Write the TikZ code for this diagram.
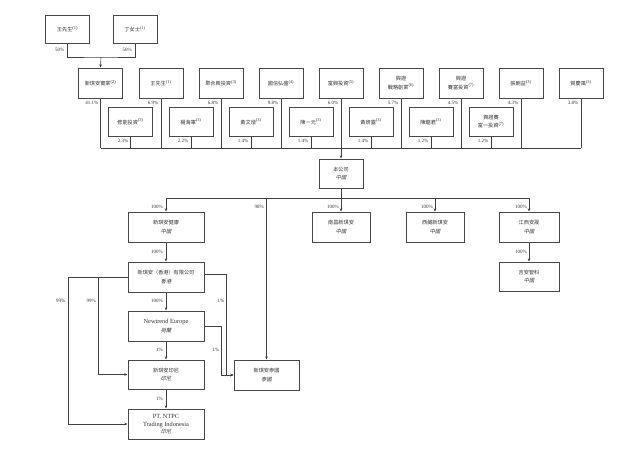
\documentclass[tikz,border=0pt]{standalone}
\usepackage{fontspec}
\setmainfont{Liberation Serif}
\newfontfamily\cjkfont{Noto Sans CJK TC}[Scale=0.82]
\newfontfamily\cjkitfont{Noto Sans CJK TC}[Scale=0.82,FakeSlant=0.2]
\newcommand\zh[1]{{\cjkfont #1}}
\newcommand\zhi[1]{{\cjkitfont #1}}
\newcommand\nt[1]{\textsuperscript{(#1)}}
\usetikzlibrary{arrows.meta}
\begin{document}
\begin{tikzpicture}[x=1pt,y=-1pt,
  box/.style={draw=black!72,line width=1pt,fill=white,minimum width=44pt,minimum height=29pt,align=center,inner sep=1pt,font=\fontsize{6.3}{8.5}\selectfont,text=black!80},
  wbox/.style={box,minimum width=76pt,minimum height=30pt},
  mbox/.style={box,minimum width=58pt,minimum height=30pt},
  conn/.style={draw=black!75,line width=0.6pt},
  arr/.style={conn,-{Stealth[length=3.2pt,width=2.6pt]}},
  pct/.style={font=\fontsize{5}{6}\selectfont,inner sep=0pt,anchor=east,text=black!80}]
\useasboundingbox (0,0) rectangle (632,453);

% top row
\node[box,minimum height=28pt] (w1) at (67.5,29) {\zh{王先生}\nt{1}};
\node[box,minimum height=28pt] (d1) at (135,29) {\zh{丁女士}\nt{1}};

% second row
\node[box,minimum height=30pt] (a1) at (100.5,83) {\zh{新琪安實業}\nt{2}};
\node[box,minimum height=30pt] (a2) at (161,83) {\zh{王先生}\nt{1}};
\node[box,minimum height=30pt] (a3) at (221,83) {\zh{聚合興投資}\nt{3}};
\node[box,minimum height=30pt] (a4) at (281,83) {\zh{國信弘盛}\nt{4}};
\node[box,minimum height=30pt] (a5) at (341,83) {\zh{富興投資}\nt{5}};
\node[box,minimum height=30pt] (a6) at (401,83) {\zh{興證}\\\zh{戰略創業}\nt{6}};
\node[box,minimum height=30pt] (a7) at (461,83) {\zh{興證}\\\zh{賽富投資}\nt{7}};
\node[box,minimum height=30pt] (a8) at (521,83) {\zh{張朝益}\nt{3}};
\node[box,minimum height=30pt] (a9) at (581,83) {\zh{賀慶風}\nt{3}};

% third row
\node[box] (b1) at (130.5,121.5) {\zh{修能投資}\nt{3}};
\node[box] (b2) at (191,121.5) {\zh{楊海軍}\nt{3}};
\node[box] (b3) at (251,121.5) {\zh{黃文增}\nt{3}};
\node[box] (b4) at (311,121.5) {\zh{陳一元}\nt{3}};
\node[box] (b5) at (371,121.5) {\zh{黃妍露}\nt{3}};
\node[box] (b6) at (431,121.5) {\zh{陳龍君}\nt{3}};
\node[box] (b7) at (491,121.5) {\zh{興證賽}\\\zh{富一投資}\nt{7}};

% company and subsidiaries
\node[box] (cmp) at (341,173.5) {\zh{本公司}\\\zhi{中國}};
\node[wbox] (jk) at (166,227) {\zh{新琪安健康}\\\zhi{中國}};
\node[mbox] (nc) at (341,227) {\zh{南昌新琪安}\\\zhi{中國}};
\node[mbox] (xz) at (435,227) {\zh{西藏新琪安}\\\zhi{中國}};
\node[mbox,minimum width=60pt] (jx) at (529,227) {\zh{江西安晟}\\\zhi{中國}};
\node[mbox,minimum width=60pt,minimum height=29pt] (ja) at (529,276.5) {\zh{吉安智科}\\\zhi{中國}};
\node[wbox] (hk) at (166,277) {\zh{新琪安（香港）有限公司}\\\zhi{香港}};
\node[wbox] (eu) at (166,326) {Newtrend Europe\\\zhi{荷蘭}};
\node[wbox,minimum height=29pt] (id) at (166,374.5) {\zh{新琪安印尼}\\\zhi{印尼}};
\node[wbox] (pt) at (166,424) {PT. NTPC\\Trading Indonesia\\[-1.5pt]\zhi{印尼}};
\node[box,minimum width=65pt,minimum height=30pt] (th) at (266.5,375) {\zh{新琪安泰國}\\\zhi{泰國}};

% top connectors
\coordinate (j1) at (101,57);
\draw[conn] (w1.south) |- (j1) -| (d1.south);
\draw[arr] (j1) -- (a1.north);
\node[pct] (p01) at (64.5,50) {50\%};
\node[pct] (p02) at (132,50) {50\%};

% bus
\coordinate (busL) at (101,148);
\coordinate (busR) at (581,148);
\draw[conn] (busL) -- (busR);
\foreach \n in {a1,a2,a3,a4,a5,a6,a7,a8,a9,b1,b2,b3,b4,b5,b6,b7}
  \draw[conn] (\n.south) -- (\n.south |- busL);
\draw[arr] (cmp.north |- busL) -- (cmp.north);

% percentages second row
\node[pct] (q1) at (98.5,103) {41.1\%};
\node[pct] (q2) at (158.5,103) {6.9\%};
\node[pct] (q3) at (218.5,103) {6.8\%};
\node[pct] (q4) at (278.5,103) {9.8\%};
\node[pct] (q5) at (338.5,103) {6.0\%};
\node[pct] (q6) at (398.5,103) {5.7\%};
\node[pct] (q7) at (458.5,103) {4.5\%};
\node[pct] (q8) at (518.5,103) {4.3\%};
\node[pct] (q9) at (578.5,103) {3.8\%};
% percentages third row
\node[pct] (r1) at (128.5,141) {2.3\%};
\node[pct] (r2) at (188.5,141) {2.2\%};
\node[pct] (r3) at (248.5,141) {1.4\%};
\node[pct] (r4) at (308.5,141) {1.4\%};
\node[pct] (r5) at (368.5,141) {1.4\%};
\node[pct] (r6) at (428.5,141) {1.2\%};
\node[pct] (r7) at (488.5,141) {1.2\%};

% branch below company
\coordinate (brL) at (166,198);
\coordinate (brR) at (529,198);
\draw[conn] (cmp.south) -- (cmp.south |- brL);
\draw[conn] (brL) -- (brR);
\draw[arr] (brL) -- (jk.north);
\draw[arr] (nc.north |- brL) -- (nc.north);
\draw[arr] (xz.north |- brL) -- (xz.north);
\draw[arr] (brR) -- (jx.north);
\draw[arr] (th.north |- brL) -- (th.north);
\draw[arr] (jx.south) -- (ja.north);
\draw[arr] (jk.south) -- (hk.north);
\draw[arr] (hk.south) -- (eu.north);
\draw[arr] (eu.south) -- (id.north);
\draw[arr] (id.south) -- (pt.north);

\node[pct] (s1) at (163,207) {100\%};
\node[pct] (s2) at (264,207) {98\%};
\node[pct] (s3) at (339,207) {100\%};
\node[pct] (s4) at (433,207) {100\%};
\node[pct] (s5) at (527,207) {100\%};
\node[pct] (s6) at (527,252) {100\%};
\node[pct] (s7) at (163,252) {100\%};
\node[pct] (s8) at (163,301) {100\%};
\node[pct] (s9) at (163,350) {1\%};
\node[pct] (s10) at (163,399) {1\%};

% side connectors
\coordinate (k1) at (68,424);
\coordinate (k2) at (98,374.5);
\coordinate (k3) at (226,375);
\coordinate (k4) at (221,375);
\draw[arr] (hk.west) -| (k1) -- (pt.west);
\draw[arr] (k2 |- hk.west) -- (k2) -- (id.west);
\draw[arr] ([yshift=3pt]hk.east) -| (k3) -- (th.west);
\draw[arr] (eu.east) -| (k4) -- (th.west);
\node[pct] (t1) at (65.5,301) {99\%};
\node[pct] (t2) at (96,301) {99\%};
\node[pct] (t3) at (224.5,301) {1\%};
\node[pct] (t4) at (219.5,350) {1\%};
\end{tikzpicture}
\end{document}
